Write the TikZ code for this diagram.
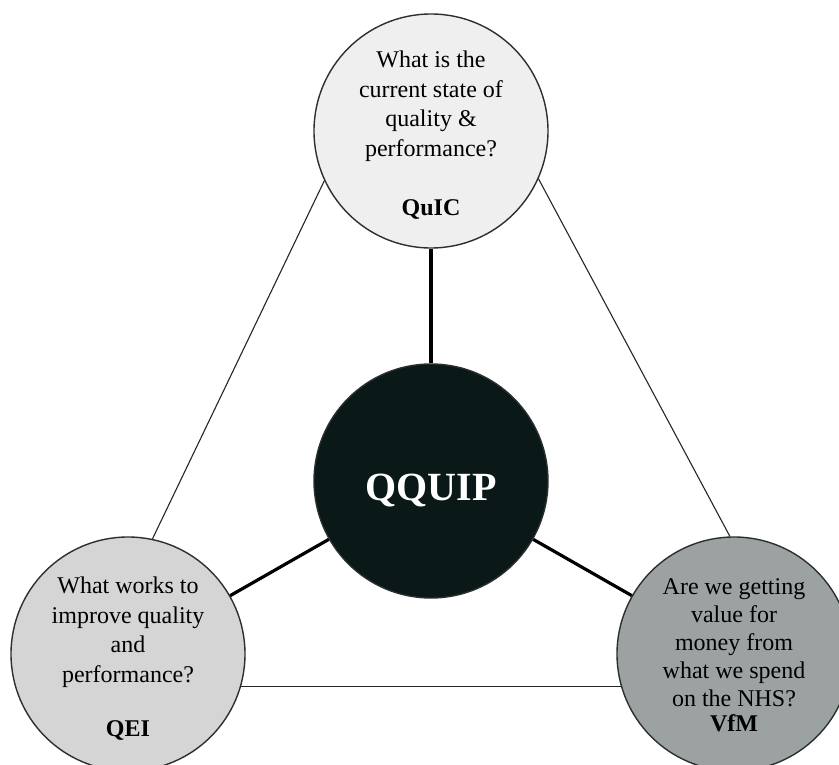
\documentclass[tikz,border=0pt]{standalone}
\usepackage{fontspec}
\setmainfont{Liberation Serif}
\definecolor{topfill}{HTML}{EFEFEF}
\definecolor{leftfill}{HTML}{D5D5D5}
\definecolor{rightfill}{HTML}{9CA1A2}
\definecolor{hubfill}{HTML}{0B1818}
\definecolor{rimcol}{HTML}{2A2F2F}
\begin{document}
\begin{tikzpicture}[x=1pt,y=-1pt,
  bubble/.style={circle, draw=rimcol, line width=1.4pt, minimum size=234pt, inner sep=0pt},
  question/.style={inner sep=0pt, align=center, font=\fontsize{24}{29.5}\selectfont},
  thinlink/.style={draw=black!85, line width=1.1pt},
  thicklink/.style={draw=black, line width=3.2pt}]
\useasboundingbox (0,0) rectangle (839,765);
\clip (0,0) rectangle (839,765);
\fill[white] (0,0) rectangle (839,765);

% four circles
\node[bubble, fill=topfill] (quic) at (431,131) {};
\node[bubble, fill=hubfill, text=white, font=\fontsize{40}{44}\selectfont\bfseries,
  text height=38pt, text depth=0pt] (hub) at (431,481) {QQUIP};
\node[bubble, fill=leftfill] (qei) at (128,654) {};
\node[bubble, fill=rightfill] (vfm) at (734,654) {};

% texts inside the circles
\node[question] (quictext) at ([yshift=-4pt]quic.center)
  {What is the\\current state of\\quality \&\\performance?\\[29.5pt]\textbf{QuIC}};
\node[question] (qeitext) at ([yshift=-5pt]qei.center)
  {What works to\\improve quality\\and\\performance?\\[25pt]\textbf{QEI}};
\node[question, font=\fontsize{24}{28}\selectfont] (vfmtext) at ([yshift=-1.5pt]vfm.center)
  {Are we getting\\value for\\money from\\what we spend\\on the NHS?\\[-3pt]\textbf{VfM}};

% outer triangle
\draw[thinlink] (quic.205) -- (qei.78);
\draw[thinlink] (quic.336) -- (vfm.92);
\draw[thinlink] (qei.-16) -- (vfm.196);

% spokes from the hub
\draw[thicklink] (hub) -- (quic);
\draw[thicklink] (hub) -- (qei);
\draw[thicklink] (hub) -- (vfm);
\end{tikzpicture}
\end{document}
